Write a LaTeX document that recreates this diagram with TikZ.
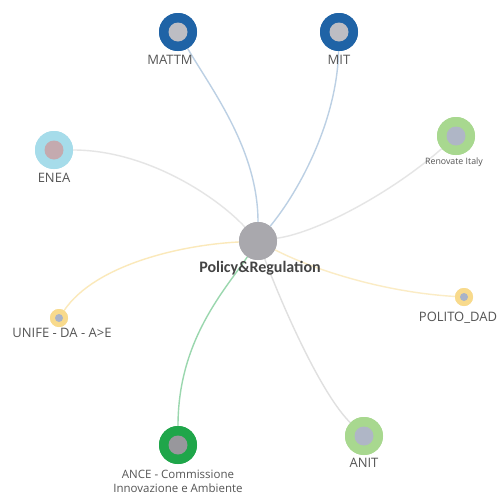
\documentclass[tikz,border=0pt]{standalone}
\usepackage{fontspec}
\setmainfont{Open Sans}
\newfontfamily\boldlab{Carlito}
\definecolor{dblue}{HTML}{1F63A6}
\definecolor{lblue}{HTML}{A6DCEA}
\definecolor{lgreen}{HTML}{A8D88F}
\definecolor{dgreen}{HTML}{1FA64A}
\definecolor{lyellow}{HTML}{F8DA8C}
\definecolor{coregray}{HTML}{A9A8AD}
\definecolor{innergray}{HTML}{BDBDC3}
\definecolor{innerblue}{HTML}{A9B3C8}
\definecolor{txt}{HTML}{555555}
\tikzset{
  big/.style={circle,minimum size=38pt,inner sep=0pt,draw=none},
  small/.style={circle,minimum size=18pt,inner sep=0pt,draw=none},
  lab/.style={text=txt,font=\fontsize{13}{15}\selectfont,inner sep=0pt,align=center},
  edge/.style={line width=1.4pt,line cap=round}
}
\begin{document}
\begin{tikzpicture}[x=1pt,y=-1pt]
\useasboundingbox[fill=white] (0,0) rectangle (499,496);
% nodes
\node[circle,minimum size=38pt,inner sep=0pt,fill=coregray] (c) at (258,241) {};
\node[big,fill=dblue] (mattm) at (178,32) {};
\node[big,fill=dblue] (mit) at (339,32) {};
\node[big,fill=lblue] (enea) at (54,150) {};
\node[big,fill=lgreen] (ren) at (456,136) {};
\node[small,fill=lyellow] (unife) at (59,318) {};
\node[small,fill=lyellow] (polito) at (464,297) {};
\node[big,fill=dgreen] (ance) at (178,445) {};
\node[big,fill=lgreen] (anit) at (364,436) {};
% edges
\draw[edge,color=dblue!30] (mattm) .. controls (212,90) and (258,150) .. (c);
\draw[edge,color=dblue!30] (mit) .. controls (337,120) and (300,190) .. (c);
\draw[edge,color=black!10] (enea) .. controls (145,150) and (215,195) .. (c);
\draw[edge,color=black!10] (ren) .. controls (395,190) and (320,232) .. (c);
\draw[edge,color=lyellow!60] (unife) .. controls (95,265) and (180,245) .. (c);
\draw[edge,color=lyellow!50] (polito) .. controls (380,292) and (310,268) .. (c);
\draw[edge,color=dgreen!45] (ance) .. controls (178,340) and (225,290) .. (c);
\draw[edge,color=black!12] (anit) .. controls (322,395) and (284,310) .. (c);
% circle details
\fill[coregray] (c) circle (19);
\fill[dblue] (mattm) circle (19); \fill[innergray] (mattm) circle (9.5);
\fill[dblue] (mit) circle (19); \fill[innergray] (mit) circle (9.5);
\fill[lblue] (enea) circle (19); \fill[innergray!90!red] (enea) circle (9.5);
\fill[lgreen] (ren) circle (19); \fill[innerblue!70!innergray] (ren) circle (9.5);
\fill[lyellow] (unife) circle (9); \fill[innerblue] (unife) circle (4);
\fill[lyellow] (polito) circle (9); \fill[innerblue] (polito) circle (4);
\fill[dgreen] (ance) circle (19); \fill[coregray!90!black] (ance) circle (9.5);
\fill[lgreen] (anit) circle (19); \fill[innerblue!70!innergray] (anit) circle (9.5);
% labels
\node[text=txt!80!black,font=\boldlab\bfseries\fontsize{16}{18}\selectfont,inner sep=0pt] (lc) at (260,268) {Policy\&Regulation};
\node[lab] (lmattm) at (170,60) {MATTM};
\node[lab] (lmit) at (339,60) {MIT};
\node[lab] (lenea) at (54,178) {ENEA};
\node[lab,font=\fontsize{8.8}{10}\selectfont] (lren) at (454,162) {Renovate Italy};
\node[lab] (lunife) at (62,333) {UNIFE - DA - A>E};
\node[lab] (lpolito) at (458,318) {POLITO\_DAD};
\node[lab,font=\fontsize{11.5}{14}\selectfont] (lance) at (178,481) {ANCE - Commissione\\Innovazione e Ambiente};
\node[lab] (lanit) at (364,463) {ANIT};
\end{tikzpicture}
\end{document}
